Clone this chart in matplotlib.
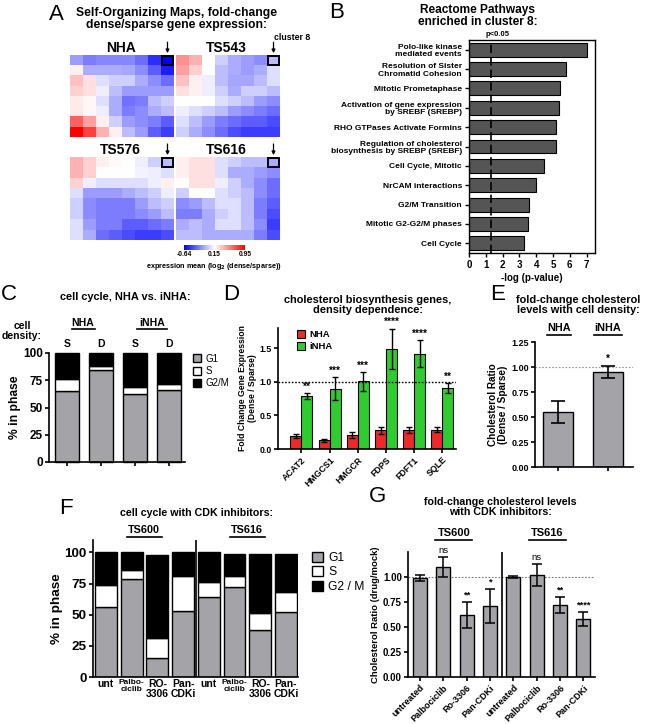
"""Multi-panel figure: SOMs, Reactome enrichment, cell cycle and cholesterol panels."""

import matplotlib

matplotlib.use("Agg")
import matplotlib.pyplot as plt
import numpy as np
from matplotlib.cm import ScalarMappable
from matplotlib.colors import Normalize
from matplotlib.lines import Line2D
from matplotlib.patches import Rectangle

plt.rcParams["font.family"] = ["Liberation Sans", "DejaVu Sans"]
plt.rcParams["font.weight"] = "bold"
plt.rcParams["axes.labelweight"] = "bold"
plt.rcParams["axes.linewidth"] = 1.2

W, H = 650, 724
GRAY = "#a4a4a8"

# ---------------- data ----------------
# A: 8x8 self-organizing maps, log2(dense/sparse) expression means
som_names = ["NHA", "TS543", "TS576", "TS616"]
som_nha = [
    [-0.15, -0.25, -0.22, -0.22, -0.22, -0.30, -0.50, -0.64],
    [0.20, -0.10, -0.10, -0.10, -0.12, -0.20, -0.35, -0.55],
    [0.35, 0.25, 0.05, 0.00, 0.00, -0.10, -0.20, -0.30],
    [0.30, 0.25, 0.10, -0.05, -0.15, -0.15, -0.15, -0.15],
    [0.22, 0.18, 0.05, -0.10, -0.28, -0.25, -0.05, 0.00],
    [0.22, 0.18, 0.10, -0.10, -0.25, -0.20, -0.10, -0.05],
    [0.65, 0.45, 0.20, 0.00, -0.15, -0.20, -0.25, -0.35],
    [0.95, 0.75, 0.40, 0.20, -0.05, -0.15, -0.35, -0.45],
]
som_ts543 = [
    [0.50, 0.40, 0.15, 0.00, -0.10, -0.15, -0.20, -0.05],
    [0.45, 0.30, 0.15, -0.05, -0.10, -0.15, -0.10, 0.05],
    [0.35, 0.20, 0.10, -0.05, -0.12, -0.12, -0.05, 0.05],
    [0.25, 0.20, 0.10, 0.00, -0.10, 0.00, 0.00, -0.05],
    [0.15, 0.15, 0.15, 0.05, 0.00, -0.05, -0.15, -0.20],
    [0.10, 0.05, 0.00, -0.05, -0.15, -0.20, -0.25, -0.30],
    [0.05, -0.05, -0.15, -0.25, -0.30, -0.35, -0.35, -0.40],
    [0.00, -0.10, -0.20, -0.30, -0.40, -0.45, -0.45, -0.45],
]
som_ts576 = [
    [0.40, 0.30, 0.20, 0.17, 0.15, 0.10, 0.00, -0.05],
    [0.40, 0.30, 0.15, 0.15, 0.15, 0.12, 0.10, 0.05],
    [0.30, 0.10, 0.05, 0.05, 0.05, 0.05, 0.10, 0.20],
    [0.05, -0.15, -0.15, -0.15, -0.10, -0.05, 0.00, 0.10],
    [0.00, -0.20, -0.25, -0.25, -0.25, -0.15, -0.05, 0.00],
    [0.00, -0.20, -0.25, -0.25, -0.25, -0.20, -0.15, -0.05],
    [0.05, -0.15, -0.25, -0.25, -0.35, -0.35, -0.30, -0.25],
    [0.05, -0.10, -0.30, -0.35, -0.40, -0.45, -0.45, -0.40],
]
som_ts616 = [
    [0.20, 0.25, 0.25, 0.05, 0.00, -0.05, -0.05, -0.10],
    [0.20, 0.25, 0.25, 0.05, -0.10, -0.10, -0.15, -0.20],
    [0.15, 0.25, 0.25, 0.10, 0.00, -0.10, -0.20, -0.30],
    [0.00, 0.15, 0.15, 0.05, 0.00, -0.05, -0.20, -0.30],
    [-0.20, -0.15, -0.05, 0.05, 0.05, -0.05, -0.25, -0.35],
    [-0.25, -0.25, -0.10, 0.00, 0.05, -0.05, -0.25, -0.40],
    [-0.10, -0.05, -0.10, 0.05, 0.05, -0.05, -0.20, -0.45],
    [-0.05, -0.05, -0.10, -0.10, -0.10, -0.10, -0.25, -0.40],
]
som_vmin, som_mid, som_vmax = -0.64, 0.15, 0.95
cluster8_cell = (0, 7)  # (row, col)

# B: Reactome pathways
pathways = [
    "Polo-like kinase\nmediated events",
    "Resolution of Sister\nChromatid Cohesion",
    "Mitotic Prometaphase",
    "Activation of gene expression\nby SREBF (SREBP)",
    "RHO GTPases Activate Formins",
    "Regulation of cholesterol\nbiosynthesis by SREBP (SREBF)",
    "Cell Cycle, Mitotic",
    "NrCAM interactions",
    "G2/M Transition",
    "Mitotic G2-G2/M phases",
    "Cell Cycle",
]
pathway_score = [7.0, 5.75, 5.4, 5.38, 5.2, 5.15, 4.45, 4.0, 3.6, 3.5, 3.3]
p_cut = -np.log10(0.05)

# C: cell cycle NHA vs iNHA (S = sparse, D = dense)
c_density = ["S", "D", "S", "D"]
c_g1 = [65, 84, 62, 66]
c_s = [11, 4, 7, 6]
c_g2m = [24, 12, 31, 28]

# D: cholesterol biosynthesis genes
d_genes = ["ACAT2", "HMGCS1", "HMGCR", "FDPS", "FDFT1", "SQLE"]
d_nha = [0.20, 0.13, 0.21, 0.28, 0.28, 0.29]
d_nha_err = [0.03, 0.02, 0.04, 0.05, 0.04, 0.04]
d_inha = [0.79, 0.90, 1.01, 1.49, 1.42, 0.91]
d_inha_err = [0.04, 0.17, 0.14, 0.30, 0.20, 0.07]
d_sig = ["**", "***", "***", "****", "****", "**"]

# E: cholesterol ratio with density
e_lines = ["NHA", "iNHA"]
e_ratio = [0.55, 0.95]
e_err = [0.11, 0.06]
e_sig = ["", "*"]

# F: cell cycle with CDK inhibitors
f_lines = ["TS600", "TS616"]
f_treat = ["unt", "Palbo-\nciclib", "RO-\n3306", "Pan-\nCDKi"]
f_g1 = [56, 79, 15, 53, 64, 72, 38, 52]
f_s = [18, 7, 16, 28, 12, 9, 13, 16]
f_g2m = [26, 14, 67, 19, 24, 18, 48, 31]

# G: cholesterol ratio with CDK inhibitors
g_treat = ["untreated", "Palbociclib", "Ro-3306", "Pan-CDKi"]
g_ratio = [0.99, 1.10, 0.62, 0.71, 1.00, 1.02, 0.72, 0.58]
g_err = [0.03, 0.10, 0.13, 0.17, 0.01, 0.11, 0.08, 0.07]
g_sig = ["", "ns", "**", "*", "", "ns", "**", "****"]


# ---------------- helpers ----------------
def px_axes(fig, left, top, right, bottom):
    return fig.add_axes([left / W, 1 - bottom / H, (right - left) / W, (bottom - top) / H])


def ftext(fig, x, y, s, **kw):
    kw.setdefault("ha", "center")
    kw.setdefault("va", "center")
    fig.text(x / W, 1 - y / H, s, **kw)


def underline(fig, x0, x1, y):
    fig.add_artist(Line2D([x0 / W, x1 / W], [1 - y / H] * 2, color="black", lw=1.2))


def letter(fig, x, y, s):
    ftext(fig, x, y, s, fontsize=16, fontweight="normal")


def prism(ax, labelsize=7):
    ax.spines["top"].set_visible(False)
    ax.spines["right"].set_visible(False)
    ax.tick_params(direction="out", length=3, width=1.2, labelsize=labelsize, pad=1.5)


fig = plt.figure(figsize=(W / 100, H / 100), dpi=100)

# ---------------- A ----------------
letter(fig, 56, 14, "A")
ftext(fig, 177, 19, "Self-Organizing Maps, fold-change\ndense/sparse gene expression:",
      fontsize=8.7, linespacing=1.1)
norm = Normalize(som_vmin, som_vmax)
boxes = [(70, 55, 174, 137), (176, 55, 280, 137), (70, 157, 174, 240), (176, 157, 280, 240)]
for name, grid, (l, t, r, b) in zip(som_names, [som_nha, som_ts543, som_ts576, som_ts616], boxes):
    ax = px_axes(fig, l, t, r, b)
    ax.imshow(np.array(grid), cmap="bwr", norm=norm, aspect="auto", interpolation="nearest")
    ax.set_axis_off()
    row, col = cluster8_cell
    ax.add_patch(Rectangle((col - 0.45, row - 0.45), 0.9, 0.9, fill=False, ec="black", lw=1.4, clip_on=False))
    ax.annotate("", xy=(col, row - 0.68), xytext=(col, row - 1.75), xycoords="data",
                arrowprops=dict(arrowstyle="-|>", color="black", lw=0.9, mutation_scale=5,
                                shrinkA=0, shrinkB=0),
                annotation_clip=False)
    ax.text(3.4, row - 1.15, name, ha="center", va="center", fontsize=10)
ftext(fig, 292, 38, "cluster 8", fontsize=6.3)

cax = px_axes(fig, 184, 245, 245, 250)
cb = fig.colorbar(ScalarMappable(norm=norm, cmap="bwr"), cax=cax, orientation="horizontal",
                  ticks=[som_vmin, som_mid, som_vmax])
cb.outline.set_visible(False)
cax.tick_params(length=0, labelsize=4.8, pad=1)
cax.set_xticklabels([f"{v:.2f}" for v in (som_vmin, som_mid, som_vmax)])
ftext(fig, 214, 266, "expression mean (log$_2$ (dense/sparse))", fontsize=5.2)

# ---------------- B ----------------
letter(fig, 337, 12, "B")
ftext(fig, 478, 16, "Reactome Pathways\nenriched in cluster 8:", fontsize=8.6, linespacing=1.05)
ax = px_axes(fig, 469, 40, 595, 253)
yb = np.arange(len(pathways))
ax.barh(yb, pathway_score, height=0.72, color="#555555", edgecolor="black", lw=0.8)
ax.axvline(p_cut, color="black", lw=1.2, ls=(0, (5, 2.5)))
ax.set_xlim(0, 7.5)
ax.set_ylim(len(pathways) - 0.5, -0.5)
ax.set_xticks(range(8))
ax.set_yticks(yb)
ax.set_yticklabels(pathways, fontsize=6.0, linespacing=1.1)
ax.tick_params(direction="out", length=3, width=1.0, pad=2)
ax.tick_params(axis="x", labelsize=7)
for s in ax.spines.values():
    s.set_linewidth(1.0)
ax.set_xlabel("-log (p-value)", fontsize=7, labelpad=2)
ax.text(p_cut + 0.4, -0.6, "p<0.05", ha="center", va="bottom", fontsize=5.5)

# ---------------- C ----------------
letter(fig, 9, 294, "C")
ftext(fig, 125, 297, "cell cycle, NHA vs. iNHA:", fontsize=7.9)
ftext(fig, 42, 331, "cell\ndensity:", ha="right", multialignment="center", fontsize=7.5, linespacing=1.0)
ftext(fig, 83, 323, "NHA", fontsize=7.5)
underline(fig, 72, 95, 329)
ftext(fig, 152, 323, "iNHA", fontsize=7.5)
underline(fig, 137, 167, 329)
ax = px_axes(fig, 49, 353, 185, 462)
xc = np.arange(len(c_g1))
g1 = np.array(c_g1)
sp = np.array(c_s)
ax.bar(xc, g1, width=0.7, color=GRAY, edgecolor="black", lw=1.0, label="G1", clip_on=False)
ax.bar(xc, sp, bottom=g1, width=0.7, color="white", edgecolor="black", lw=1.0, label="S", clip_on=False)
ax.bar(xc, c_g2m, bottom=g1 + sp, width=0.7, color="black", edgecolor="black", lw=1.0, label="G2/M",
       clip_on=False)
ax.set_xlim(-0.53, 3.47)
ax.set_ylim(0, 100)
ax.set_yticks([0, 25, 50, 75, 100])
ax.set_xticks(xc)
ax.set_xticklabels([])
prism(ax, labelsize=8.5)
ax.set_ylabel("% in phase", fontsize=8.7, labelpad=1)
for xi, d in zip(xc, c_density):
    ax.text(xi, 108.5, d, ha="center", va="center", fontsize=7.5)
ax.legend(loc="upper left", bbox_to_anchor=(1.02, 1.04), frameon=False,
          prop={"weight": "normal", "size": 7}, handlelength=0.9, handleheight=0.9,
          handletextpad=0.4, labelspacing=0.25, borderpad=0)

# ---------------- D ----------------
letter(fig, 231, 294, "D")
ftext(fig, 368, 305, "cholesterol biosynthesis genes,\ndensity dependence:", fontsize=7.9, linespacing=1.05)
ax = px_axes(fig, 278, 328, 456, 449)
xd = np.arange(len(d_genes))
bw = 0.39
ek = dict(capsize=2.5, lw=1.0, capthick=1.0, ecolor="black")
ax.bar(xd - bw / 2, d_nha, bw, yerr=d_nha_err, color="#f02828", edgecolor="black", lw=0.8,
       error_kw=ek, label="NHA")
ax.bar(xd + bw / 2, d_inha, bw, yerr=d_inha_err, color="#2ecc2e", edgecolor="black", lw=0.8,
       error_kw=ek, label="iNHA")
ax.axhline(1.0, color="black", lw=1.0, ls=(0, (1.2, 1.2)))
for xi, v, e, s in zip(xd, d_inha, d_inha_err, d_sig):
    ax.text(xi + bw / 2, v + e + 0.02, s, ha="center", va="bottom", fontsize=7.2)
ax.set_xlim(-0.83, 5.48)
ax.set_ylim(0, 1.8)
ax.set_yticks([0, 0.5, 1.0, 1.5])
ax.set_xticks(xd)
ax.set_xticklabels(d_genes, rotation=45, ha="right", rotation_mode="anchor", fontsize=6.3)
prism(ax, labelsize=6.3)
ax.set_ylabel("Fold Change Gene Expression\n(Dense / Sparse)", fontsize=6.2, labelpad=2, linespacing=1.05)
ax.legend(loc="upper left", bbox_to_anchor=(0.08, 1.02), frameon=False, fontsize=6.8,
          handlelength=0.9, handleheight=0.9, handletextpad=0.4, labelspacing=0.3, borderpad=0)

# ---------------- E ----------------
letter(fig, 498, 294, "E")
ftext(fig, 578, 305, "fold-change cholesterol\nlevels with cell density:", fontsize=7.9, linespacing=1.05)
ax = px_axes(fig, 535, 342, 633, 467)
xe = np.arange(len(e_ratio))
ax.bar(xe, e_ratio, width=0.6, yerr=e_err, color=GRAY, edgecolor="black", lw=1.0,
       error_kw=dict(capsize=5, lw=1.2, capthick=1.2))
ax.axhline(1.0, color="#999999", lw=0.8, ls=(0, (1.5, 1.5)), zorder=0)
for xi, v, e, s in zip(xe, e_ratio, e_err, e_sig):
    if s:
        ax.text(xi, v + e + 0.02, s, ha="center", va="bottom", fontsize=7.2)
ax.set_xlim(-0.46, 1.5)
ax.set_ylim(0, 1.25)
ax.set_yticks([0, 0.25, 0.5, 0.75, 1.0, 1.25])
ax.set_xticks(xe)
ax.set_xticklabels([])
prism(ax, labelsize=6.5)
ax.set_ylabel("Cholesterol Ratio\n(Dense / Sparse)", fontsize=7.2, labelpad=2, linespacing=1.0)
ftext(fig, 559, 328, e_lines[0], fontsize=7.8)
underline(fig, 547, 571, 335)
ftext(fig, 608, 328, e_lines[1], fontsize=7.8)
underline(fig, 594, 622, 335)

# ---------------- F ----------------
letter(fig, 66, 509, "F")
ftext(fig, 197, 513, "cell cycle with CDK inhibitors:", fontsize=7.7)
ftext(fig, 144, 530, f_lines[0], fontsize=7.8)
underline(fig, 127, 162, 537)
ftext(fig, 247, 530, f_lines[1], fontsize=7.8)
underline(fig, 230, 265, 537)
ax = px_axes(fig, 93, 540, 298, 677)
xf = np.arange(len(f_g1))
fg1 = np.array(f_g1)
fs = np.array(f_s)
ax.bar(xf, fg1, width=0.85, color=GRAY, edgecolor="black", lw=1.0, label="G1")
ax.bar(xf, fs, bottom=fg1, width=0.85, color="white", edgecolor="black", lw=1.0, label="S")
ax.bar(xf, f_g2m, bottom=fg1 + fs, width=0.85, color="black", edgecolor="black", lw=1.0, label="G2 / M")
ax.axvline(3.5, color="black", lw=1.2)
ax.set_xlim(-0.5, 7.47)
ax.set_ylim(0, 110)
ax.set_yticks([0, 25, 50, 75, 100])
ax.set_xticks(xf)
ax.set_xticklabels(f_treat * 2, linespacing=0.95)
prism(ax, labelsize=9.7)
ax.tick_params(axis="x", length=0, labelsize=7.5)
for lbl in ax.get_xticklabels():
    if lbl.get_text().startswith("Palbo"):
        lbl.set_fontsize(6)
ax.set_ylabel("% in phase", fontsize=9.7, labelpad=1)
ax.legend(loc="upper left", bbox_to_anchor=(1.04, 0.96), frameon=False,
          prop={"weight": "normal", "size": 8.7}, handlelength=0.9, handleheight=0.9,
          handletextpad=0.4, labelspacing=0.2, borderpad=0)

# ---------------- G ----------------
letter(fig, 378, 497, "G")
ftext(fig, 500, 507, "fold-change cholesterol levels\nwith CDK inhibitors:", fontsize=7.7, linespacing=1.05)
ftext(fig, 454, 533, f_lines[0], fontsize=8)
underline(fig, 435, 472, 540)
ftext(fig, 547, 533, f_lines[1], fontsize=8)
underline(fig, 529, 566, 540)
ax = px_axes(fig, 408, 552, 595, 677)
xg = np.arange(len(g_ratio))
ax.bar(xg, g_ratio, width=0.6, yerr=g_err, color=GRAY, edgecolor="black", lw=1.0,
       error_kw=dict(capsize=3.5, lw=1.1, capthick=1.1))
ax.axhline(1.0, color="#777777", lw=0.8, ls=(0, (1.5, 1.5)), zorder=0)
ax.axvline(3.5, color="black", lw=1.2)
for xi, v, e, s in zip(xg, g_ratio, g_err, g_sig):
    if s:
        ax.text(xi, v + e + 0.02, s, ha="center", va="bottom", fontsize=6.8,
                fontweight="normal" if s == "ns" else "bold")
ax.set_xlim(-0.52, 7.5)
ax.set_ylim(0, 1.25)
ax.set_yticks([0, 0.25, 0.5, 0.75, 1.0])
ax.set_yticklabels(["0.00", "0.25", "0.50", "0.75", "1.00"])
ax.set_xticks(xg)
ax.set_xticklabels(g_treat * 2, rotation=45, ha="right", rotation_mode="anchor")
prism(ax, labelsize=7)
ax.tick_params(axis="x", labelsize=6.5)
ax.set_ylabel("Cholesterol Ratio (drug/mock)", fontsize=6.8, labelpad=2)

fig.savefig("out.png", dpi=100)
